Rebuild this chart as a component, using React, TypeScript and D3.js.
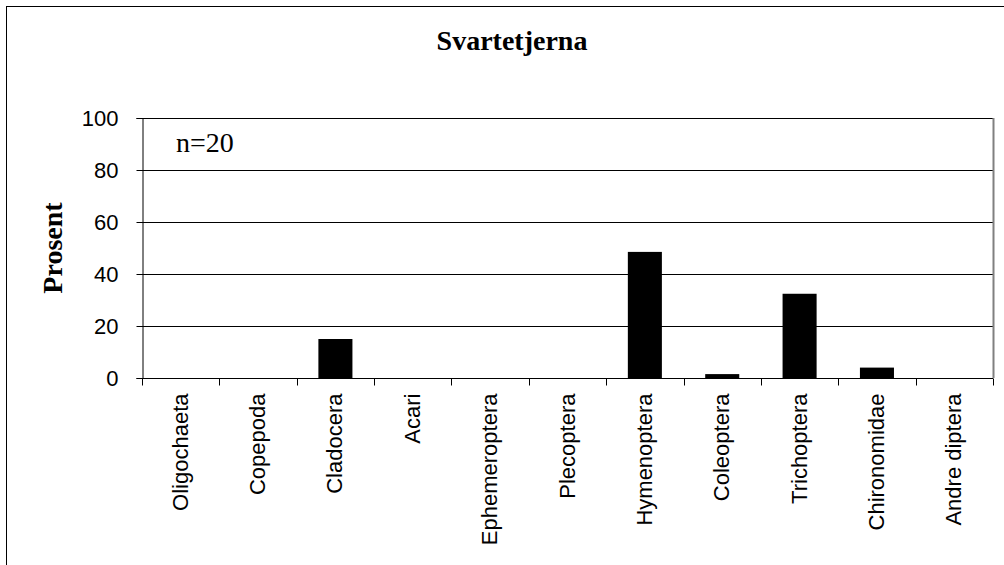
import React, { useEffect, useRef } from "react";
import * as d3 from "d3";

const categories = [
  "Oligochaeta",
  "Copepoda",
  "Cladocera",
  "Acari",
  "Ephemeroptera",
  "Plecoptera",
  "Hymenoptera",
  "Coleoptera",
  "Trichoptera",
  "Chironomidae",
  "Andre diptera",
];
const values = [0, 0, 15, 0, 0, 0, 48.5, 1.5, 32.4, 4, 0];
const yTicks = [0, 20, 40, 60, 80, 100];

export default function App() {
  const ref = useRef<SVGSVGElement>(null);

  useEffect(() => {
    document.body.style.margin = "0";
    const width = 1004;
    const height = 565;
    const margin = { top: 118, right: 11, bottom: 187, left: 142 };
    const sans = "Arial, 'Liberation Sans', sans-serif";
    const serif = "'Times New Roman', 'Liberation Serif', serif";

    const svg = d3.select(ref.current);
    svg.selectAll("*").remove();
    svg.attr("width", width).attr("height", height);

    svg.append("rect")
      .attr("x", 0).attr("y", 0).attr("width", width).attr("height", height)
      .attr("fill", "#fff");

    // outer chart border
    svg.append("rect")
      .attr("x", 6.5).attr("y", 6.5)
      .attr("width", width + 10).attr("height", height + 10)
      .attr("fill", "none").attr("stroke", "#000").attr("stroke-width", 1);

    const x = d3.scaleBand()
      .domain(categories)
      .range([margin.left, width - margin.right])
      .paddingInner(0.56)
      .paddingOuter(0.28);

    const y = d3.scaleLinear()
      .domain([0, 100])
      .range([height - margin.bottom, margin.top]);

    // gridlines
    svg.append("g")
      .selectAll("line")
      .data(yTicks.filter(d => d > 0))
      .join("line")
      .attr("x1", margin.left).attr("x2", width - margin.right)
      .attr("y1", d => Math.round(y(d)) + 0.5).attr("y2", d => Math.round(y(d)) + 0.5)
      .attr("stroke", "#000");

    // right plot border
    svg.append("line")
      .attr("x1", width - margin.right + 0.5).attr("x2", width - margin.right + 0.5)
      .attr("y1", margin.top).attr("y2", height - margin.bottom)
      .attr("stroke", "#808080").attr("stroke-width", 2);

    // bars
    svg.append("g")
      .selectAll("rect")
      .data(values)
      .join("rect")
      .attr("x", (d, i) => x(categories[i])!)
      .attr("y", d => y(d))
      .attr("width", x.bandwidth())
      .attr("height", d => y(0) - y(d))
      .attr("fill", "#000");

    // y axis
    const yAxis = svg.append("g")
      .attr("transform", `translate(${margin.left + 0.5},0)`)
      .call(d3.axisLeft(y).tickValues(yTicks).tickSize(6).tickPadding(18));
    yAxis.select(".domain").attr("stroke", "#000");
    yAxis.selectAll(".tick line").attr("stroke", "#000");
    yAxis.selectAll("text")
      .attr("fill", "#000")
      .style("font-family", sans)
      .style("font-size", "22px");

    // x axis with ticks between categories
    const xAxisY = Math.round(y(0)) + 0.5;
    svg.append("line")
      .attr("x1", margin.left).attr("x2", width - margin.right)
      .attr("y1", xAxisY).attr("y2", xAxisY)
      .attr("stroke", "#000");
    const step = x.step();
    const bounds = d3.range(categories.length + 1).map(i => margin.left + i * step);
    svg.append("g")
      .selectAll("line")
      .data(bounds)
      .join("line")
      .attr("x1", d => Math.round(d) + 0.5).attr("x2", d => Math.round(d) + 0.5)
      .attr("y1", xAxisY).attr("y2", xAxisY + 7)
      .attr("stroke", "#000");

    svg.append("g")
      .selectAll("text")
      .data(categories)
      .join("text")
      .attr("transform", d => `translate(${x(d)! + x.bandwidth() / 2 + 7},${xAxisY + 15}) rotate(-90)`)
      .attr("text-anchor", "end")
      .style("font-family", sans)
      .style("font-size", "22px")
      .attr("fill", "#000")
      .text(d => d);

    // title
    svg.append("text")
      .attr("x", 512).attr("y", 50)
      .attr("text-anchor", "middle")
      .style("font-family", serif)
      .style("font-weight", "bold")
      .style("font-size", "28px")
      .text("Svartetjerna");

    // y axis title
    svg.append("text")
      .attr("transform", `translate(62,${(margin.top + height - margin.bottom) / 2}) rotate(-90)`)
      .attr("text-anchor", "middle")
      .style("font-family", serif)
      .style("font-weight", "bold")
      .style("font-size", "28px")
      .text("Prosent");

    // sample size note
    svg.append("text")
      .attr("x", 176).attr("y", 152)
      .style("font-family", serif)
      .style("font-size", "28px")
      .text("n=20");
  }, []);

  return <svg ref={ref} style={{ display: "block" }}></svg>;
}
